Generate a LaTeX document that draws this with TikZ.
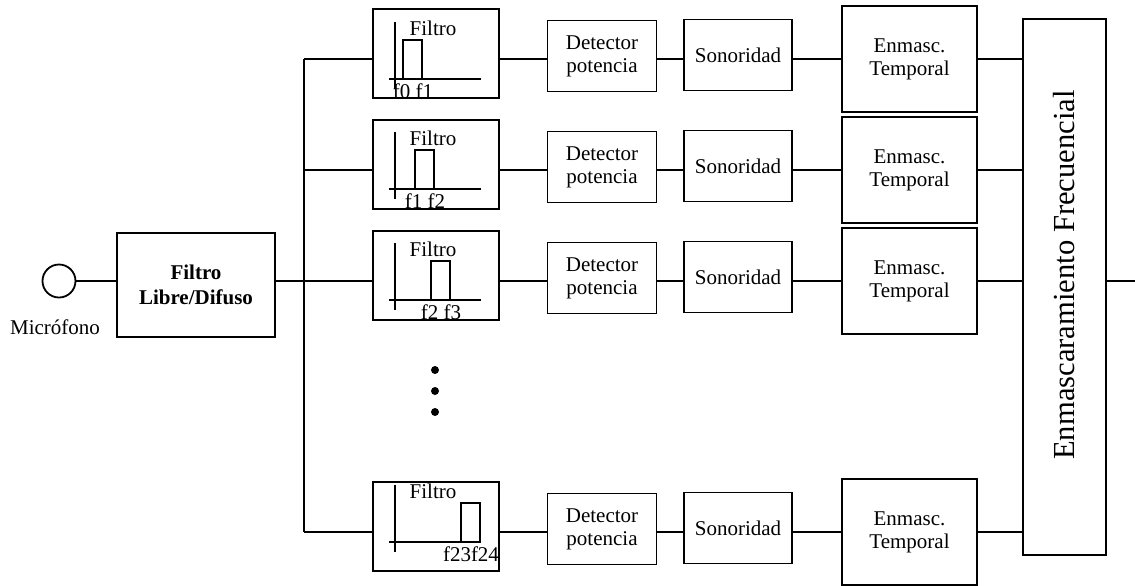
\documentclass[tikz,border=0pt]{standalone}
\usepackage{fontspec}
\setmainfont{Liberation Serif}
\begin{document}
\begin{tikzpicture}[x=0.5pt,y=-0.5pt,line width=0.9pt,
    caja/.style={draw,align=center,inner sep=0pt,font=\fontsize{10.5}{11.5}\selectfont},
    texto/.style={inner sep=0pt,font=\fontsize{10.5}{11.5}\selectfont}]
  \useasboundingbox (0,0) rectangle (1135,585);
  % entrada
  \node[circle,draw,minimum size=16.5pt,inner sep=0pt] (mic) at (59,281) {};
  \node[texto] (mictxt) at (55,327) {Micrófono};
  \node[caja,minimum width=79pt,minimum height=52pt,font=\fontsize{10.5}{12.5}\selectfont\bfseries] (libre) at (196,285) {Filtro\\Libre/Difuso};
  \node[caja,rotate=90,minimum width=268pt,minimum height=41.5pt,font=\fontsize{15.3}{16}\selectfont] (frec) at (1064.5,287) {\hspace*{12pt}Enmascaramiento Frecuencial};
  \coordinate (bus) at (304,281);
  \coordinate (salida) at (1135,281);
  % bandas
  \foreach \i/\y/\e/\xr/\f in {1/59/79/403/{f0 f1},2/170/189/415/{f1 f2},3/281/300/431/{f2 f3},4/532/542/461/{f23f24}}{
    \coordinate (r\i) at (0,\y);
    \node[caja,minimum width=63pt,minimum height=44.5pt] (fil\i) at (436,\y-5.5) {};
    \draw (395,\e-57) -- (395,\e+10);
    \draw (389,\e) -- (481,\e);
    \draw (\xr,\e) rectangle (\xr+19,\e-39);
    \node[texto] (ft\i) at (433,\e-51) {Filtro};
    \node[texto,anchor=north] (fl\i) at (\xr+10,\e+4) {\f};
    \node[caja,minimum width=54.5pt,minimum height=35.5pt] (det\i) at (602,\y-3) {Detector\\potencia};
    \node[caja,minimum width=54pt,minimum height=35.5pt] (son\i) at (738,\y-4) {Sonoridad};
    \node[caja,minimum width=67.5pt,minimum height=53pt] (enm\i) at (909.5,\y) {Enmasc.\\Temporal};
    \draw (bus |- r\i) -- (fil\i.west |- r\i);
    \draw (fil\i.east |- r\i) -- (det\i.west |- r\i);
    \draw (det\i.east |- r\i) -- (son\i.west |- r\i);
    \draw (son\i.east |- r\i) -- (enm\i.west |- r\i);
    \draw (enm\i.east |- r\i) -- (frec.north |- r\i);
  }
  \foreach \d in {370,391,412} \fill (435,\d) circle (2pt);
  \draw (mic.east) -- (libre.west |- r3);
  \draw (libre.east |- r3) -- (bus);
  \draw (bus |- r1) -- (bus |- r4);
  \draw (frec.south |- r3) -- (salida);
\end{tikzpicture}
\end{document}
